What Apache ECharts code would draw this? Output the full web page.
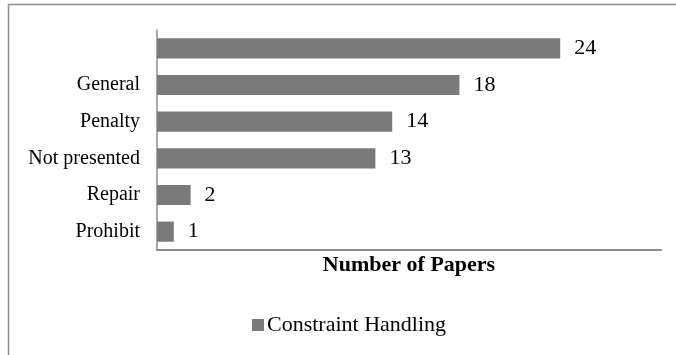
<!DOCTYPE html>
<html>
<head>
<meta charset="utf-8">
<script src="https://cdn.jsdelivr.net/npm/echarts@6/dist/echarts.min.js"></script>
<style>
  html, body { margin: 0; padding: 0; background: #fff; }
  #chart { width: 676px; height: 355px; }
</style>
</head>
<body>
<div id="chart"></div>
<script>
// categories bottom -> top (the top bar has no label in the original)
var categories = ["Prohibit", "Repair", "Not presented", "Penalty", "General", ""];
var paperCounts = [1, 2, 13, 14, 18, 24];
var seriesName = "Constraint Handling";

var chart = echarts.init(document.getElementById("chart"));
var serif = "'Liberation Serif', 'Times New Roman', serif";

var option = {
  backgroundColor: "#fff",
  animation: false,
  textStyle: { fontFamily: serif },
  graphic: [
    {
      type: "rect",
      shape: { x: 8.5, y: 4.5, width: 720, height: 400 },
      style: { fill: "none", stroke: "#8c8c8c", lineWidth: 1.5 },
      silent: true
    }
  ],
  grid: { left: 157, right: 15, top: 30, bottom: 105 },
  legend: {
    data: [seriesName],
    left: 247,
    top: 309,
    itemWidth: 12,
    itemHeight: 12,
    itemGap: 4,
    icon: "rect",
    textStyle: { fontFamily: serif, fontSize: 22, color: "#000", padding: [0, 0, 0, -2] }
  },
  xAxis: {
    type: "value",
    min: 0,
    max: 30,
    name: "Number of Papers",
    nameLocation: "middle",
    nameGap: 4,
    nameTextStyle: { fontFamily: serif, fontSize: 22, fontWeight: "bold", color: "#000", verticalAlign: "top" },
    axisLine: { show: true, lineStyle: { color: "#8c8c8c", width: 2 } },
    axisTick: { show: false },
    axisLabel: { show: false },
    splitLine: { show: false }
  },
  yAxis: {
    type: "category",
    data: categories,
    axisLine: { show: true, lineStyle: { color: "#8c8c8c", width: 1.5 } },
    axisTick: { show: false },
    axisLabel: { fontFamily: serif, fontSize: 20, color: "#000", margin: 17 }
  },
  series: [
    {
      name: seriesName,
      type: "bar",
      data: paperCounts,
      barCategoryGap: "45%",
      itemStyle: { color: "#7a7a7a" },
      label: {
        show: true,
        position: "right",
        distance: 14,
        fontFamily: serif,
        fontSize: 22,
        color: "#000"
      }
    }
  ]
};

chart.setOption(option);
</script>
</body>
</html>
